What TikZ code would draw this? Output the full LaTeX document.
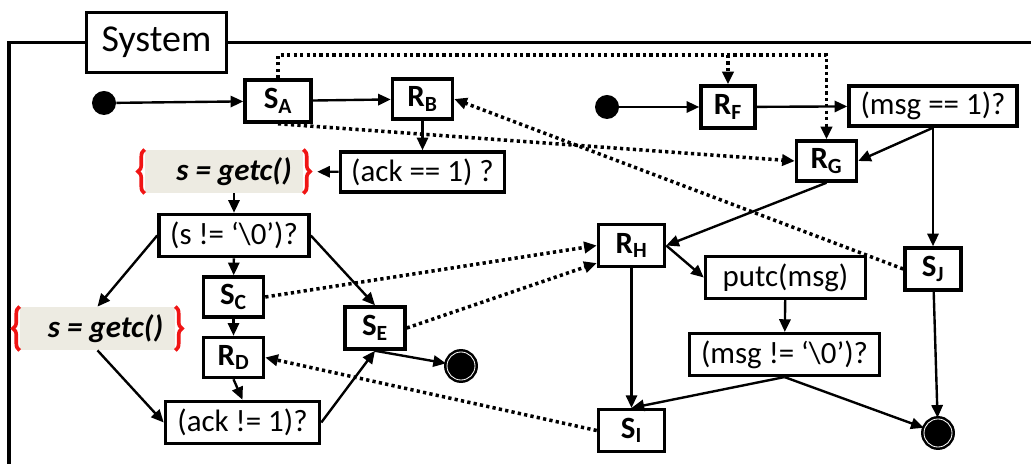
\documentclass[tikz,border=0pt]{standalone}
\usepackage{fontspec}
\setmainfont{Carlito}
\usetikzlibrary{positioning,arrows.meta,calc,decorations.pathreplacing}

\definecolor{getcfill}{RGB}{237,235,226}
\definecolor{bracered}{RGB}{240,20,20}
\newcommand{\stn}[2]{\textbf{#1\textsubscript{#2}}}
\newcommand{\nulchr}{‘\textbackslash 0’}

\begin{document}
\begin{tikzpicture}[x=0.025cm, y=-0.025cm,
  box/.style={draw, line width=2.5pt, rectangle, inner sep=2pt, align=center,
              font=\fontsize{22}{26}\selectfont},
  st/.style={box, minimum width=1.5cm, minimum height=1.0cm},
  cond/.style={box, minimum height=1.0cm},
  getc/.style={fill=getcfill, inner sep=2pt, minimum height=1.08cm,
               font=\fontsize{22}{26}\selectfont\bfseries\itshape},
  init/.style={circle, fill=black, minimum size=0.6cm, inner sep=0pt},
  final/.style={circle, fill=black, draw=black, line width=1.8pt, double=white,
                double distance=0.6pt, minimum size=0.7cm, inner sep=0pt},
  arr/.style={-{Triangle[length=9pt, width=8pt]}, line width=1.7pt},
  dotarr/.style={-{Triangle[length=9pt, width=8pt]}, line width=2.5pt,
                 dash pattern=on 2.3pt off 2.3pt},
  brc/.style={draw=bracered, line width=2.6pt,
              decorate, decoration={brace, amplitude=0.17cm}},
]
\useasboundingbox (0,0) rectangle (1031,464);

%% Frame
\node[box, minimum width=3.5cm, minimum height=1.5cm,
      font=\fontsize{27}{32}\selectfont] (sys) at (156.5,42.5) {System};
\draw[line width=2.5pt] (sys.west) -- (9,42.5) -- (9,464);
\draw[line width=2.5pt] (sys.east) -- (1031,42.5);

%% Left process
\node[init] (i1) at (104,103) {};
\node[st, minimum width=1.65cm, minimum height=1.05cm] (SA) at (278,101) {\stn{S}{A}};
\node[st] (RB) at (422.5,99) {\stn{R}{B}};
\node[getc, minimum width=3.95cm] (gA) at (224,171.5) {\hspace*{0.5cm}s = getc()};
\node[cond, minimum width=4.1cm] (ackeq) at (422.5,172) {(ack == 1) ?};
\node[cond, minimum width=3.75cm, minimum height=1.05cm] (sneq) at (234,235.5) {(s != \nulchr)?};
\node[st] (SC) at (233.5,297) {\stn{S}{C}};
\node[getc, minimum width=3.875cm] (gB) at (97.5,328.5) {\hspace*{0.4cm}s = getc()};
\node[st, minimum height=1.05cm] (SE) at (375,328) {\stn{S}{E}};
\node[st] (RD) at (233.5,357.5) {\stn{R}{D}};
\node[final] (f1) at (461,366) {};
\node[cond, minimum width=3.85cm, minimum height=1.05cm] (ackne) at (242.5,422.5) {(ack != 1)?};

%% Right process
\node[init] (i2) at (607,107) {};
\node[st, minimum width=1.35cm, minimum height=1.05cm] (RF) at (728,107) {\stn{R}{F}};
\node[cond, minimum width=4.2cm] (msgeq) at (933,106) {(msg == 1)?};
\node[st] (RG) at (826.5,161) {\stn{R}{G}};
\node[st, minimum width=1.65cm, minimum height=1.04cm] (RH) at (631.5,245.5) {\stn{R}{H}};
\node[cond, minimum width=4.0cm, minimum height=1.04cm] (putc) at (785.5,277.5) {putc(msg)};
\node[st, minimum width=1.4cm, minimum height=1.05cm] (SJ) at (933,269) {\stn{S}{J}};
\node[cond, minimum width=4.75cm, minimum height=1.04cm] (msgne) at (784.5,354.5) {(msg != \nulchr)?};
\node[st, minimum width=1.65cm, minimum height=1.04cm] (SI) at (631.5,430.5) {\stn{S}{I}};
\node[final] (f2) at (938,433) {};

%% Braces round the getc actions
\draw[brc] (gA.south west) -- (gA.north west);
\draw[brc] (gA.north east) -- (gA.south east);
\draw[brc] (gB.south west) -- (gB.north west);
\draw[brc] (gB.north east) -- (gB.south east);

%% Transitions, left
\draw[arr] (i1) -- (SA);
\draw[arr] (SA) -- (RB);
\draw[arr] (RB) -- (ackeq);
\draw[arr, shorten >=0.35cm] (ackeq) -- (gA);
\draw[arr] (sneq.north |- gA.south) -- (sneq.north);
\draw[arr] (sneq) -- (SC);
\draw[arr] (sneq.west) -- (gB.north);
\draw[arr] (sneq.east) -- (SE.north);
\draw[arr] (SC) -- (RD);
\draw[arr] (gB.south) -- (ackne.west);
\draw[arr] (RD.south) -- (ackne.north);
\draw[arr] (ackne.east) -- (SE.south);
\draw[arr] (SE.south) -- (f1);

%% Transitions, right
\draw[arr] (i2) -- (RF);
\draw[arr] (RF) -- (msgeq);
\draw[arr] (msgeq.south) -- (RG.east);
\draw[arr] (msgeq) -- (SJ);
\draw[arr] (RG.south) -- (RH.east);
\draw[arr] (RH.east) -- (putc.west);
\draw[arr] (putc) -- (msgne);
\draw[arr] (RH) -- (SI);
\draw[arr] (msgne.south) -- (SI.north);
\draw[arr] (msgne.south) -- (f2);
\draw[arr] (SJ) -- (f2);

%% Messages (dotted)
\coordinate (dtop) at (278,55);
\draw[dotarr] (SA.north) -- (dtop) -| (RG.north);
\draw[dotarr] (RF.north |- dtop) -- (RF.north);
\draw[dotarr] (SA.south) -- (RG.west);
\draw[dotarr] (SJ.west) -- (RB.east);
\draw[dotarr] (SC.east) -- (RH.west);
\draw[dotarr] (SE.east) -- ($(RH.south west)+(0,-5)$);
\draw[dotarr] (SI.west) -- (RD.east);

\end{tikzpicture}
\end{document}
